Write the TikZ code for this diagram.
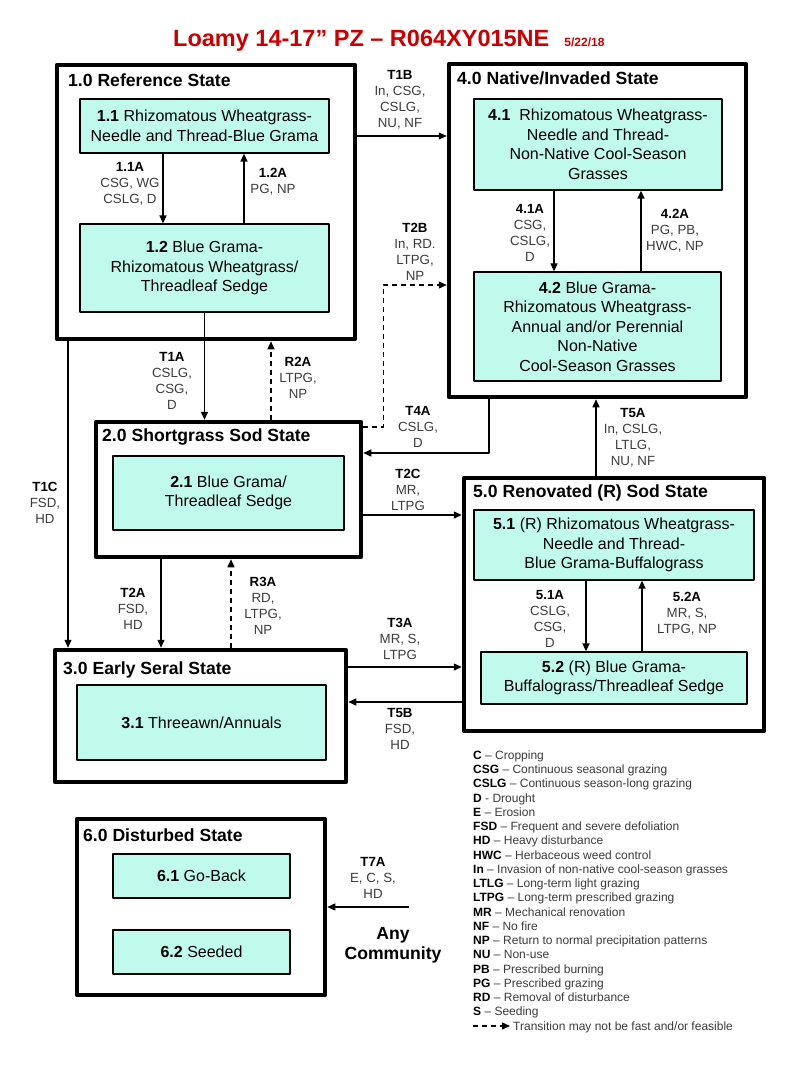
\documentclass[tikz,border=0pt]{standalone}
\usepackage{fontspec}
\setmainfont{Liberation Sans}
\usetikzlibrary{arrows.meta}
\definecolor{commfill}{RGB}{192,250,236}
\definecolor{titlered}{RGB}{204,0,0}
\definecolor{labgray}{RGB}{60,60,60}
\tikzset{
	state/.style={draw, line width=4.5pt, inner sep=0pt},
	comm/.style={draw, line width=1.3pt, fill=commfill, align=center, inner sep=0pt, font=\fontsize{16}{19.5}\selectfont},
	stitle/.style={anchor=base west, inner sep=0pt, font=\bfseries\fontsize{17.6}{20}\selectfont},
	lbl/.style={align=center, inner sep=0pt, text=labgray, font=\fontsize{13.3}{16}\selectfont},
	leg/.style={anchor=base west, inner sep=0pt, text=labgray, font=\fontsize{12}{14}\selectfont},
	trans/.style={line width=1.4pt, ->},
	maybe/.style={dash pattern=on 5pt off 4pt}
}
\newcommand{\trn}[1]{\textcolor{black}{\textbf{#1}}}
\begin{document}
\begin{tikzpicture}[x=1pt, y=-1pt, >={Triangle[length=8pt,width=7pt]}, line join=round]
	\path[use as bounding box, fill=white] (0,0) rectangle (800,1067);
	\node[anchor=base west, text=titlered, inner sep=0pt, font=\bfseries\fontsize{23.5}{28}\selectfont] (title) at (173,47) {Loamy 14-17” PZ – R064XY015NE\hspace{15pt}{\fontsize{12}{14}\selectfont 5/22/18}};
	\node[state, minimum width=298pt, minimum height=274pt] (s1) at (206,202) {};
	\node[state, minimum width=297pt, minimum height=333pt] (s4) at (597.5,230.5) {};
	\node[state, minimum width=265pt, minimum height=135pt] (s2) at (228.5,489.5) {};
	\node[state, minimum width=300pt, minimum height=253pt] (s5) at (614,604.5) {};
	\node[state, minimum width=291pt, minimum height=132pt] (s3) at (200.5,716) {};
	\node[state, minimum width=248pt, minimum height=176pt] (s6) at (201,907) {};
	\node[stitle] (t1) at (68,86.5) {1.0 Reference State};
	\node[stitle] (t4) at (457,85) {4.0 Native/Invaded State};
	\node[stitle] (t2) at (102,441) {2.0 Shortgrass Sod State};
	\node[stitle] (t5) at (473,497.5) {5.0 Renovated (R) Sod State};
	\node[stitle] (t3) at (63,674) {3.0 Early Seral State};
	\node[stitle] (t6) at (83,841) {6.0 Disturbed State};
	\node[comm, minimum width=249pt, minimum height=54pt] (c11) at (204.5,126) {\textbf{1.1} Rhizomatous Wheatgrass-\\Needle and Thread-Blue Grama};
	\node[comm, minimum width=249pt, minimum height=88pt] (c12) at (204.5,268) {\textbf{1.2} Blue Grama-\\Rhizomatous Wheatgrass/\\Threadleaf Sedge};
	\node[comm, minimum width=248pt, minimum height=91pt] (c41) at (598,144.5) {\textbf{4.1}\ \ Rhizomatous Wheatgrass-\\Needle and Thread-\\Non-Native Cool-Season\\Grasses};
	\node[comm, minimum width=247pt, minimum height=109pt] (c42) at (597.5,326.5) {\textbf{4.2} Blue Grama-\\Rhizomatous Wheatgrass-\\Annual and/or Perennial\\Non-Native\\Cool-Season Grasses};
	\node[comm, minimum width=231pt, minimum height=74pt] (c21) at (228.5,493) {\textbf{2.1} Blue Grama/\\Threadleaf Sedge};
	\node[comm, minimum width=280pt, minimum height=70pt] (c51) at (614,545) {\textbf{5.1} (R) Rhizomatous Wheatgrass-\\Needle and Thread-\\Blue Grama-Buffalograss};
	\node[comm, minimum width=266pt, minimum height=52pt] (c52) at (614,678) {\textbf{5.2} (R) Blue Grama-\\Buffalograss/Threadleaf Sedge};
	\node[comm, minimum width=249pt, minimum height=75pt] (c31) at (201.5,722.5) {\textbf{3.1} Threeawn/Annuals};
	\node[comm, minimum width=177pt, minimum height=44pt] (c61) at (201.5,876) {\textbf{6.1} Go-Back};
	\node[comm, minimum width=177pt, minimum height=44pt] (c62) at (201.5,952) {\textbf{6.2} Seeded};
	\coordinate (p11a) at ([xshift=-41.5pt]c11.south);
	\coordinate (p12a) at ([xshift=39.5pt]c12.north);
	\coordinate (p41a) at ([xshift=-44pt]c41.south);
	\coordinate (p42a) at ([xshift=43.5pt]c42.north);
	\coordinate (p51a) at ([xshift=-28pt]c51.south);
	\coordinate (p52a) at ([xshift=28pt]c52.north);
	\draw[trans] (p11a) -- (p11a |- c12.north);
	\draw[trans] (p12a) -- (p12a |- c11.south);
	\draw[trans] (p41a) -- (p41a |- c42.north);
	\draw[trans] (p42a) -- (p42a |- c41.south);
	\draw[trans] (p51a) -- (p51a |- c52.north);
	\draw[trans] (p52a) -- (p52a |- c51.south);
	\coordinate (p1b) at ([yshift=66pt]s1.east);
	\coordinate (p2r) at ([xshift=42.5pt]s2.north);
	\coordinate (p1c) at ([xshift=-138pt]s1.south);
	\coordinate (p2b) at ([yshift=62.5pt]s2.east);
	\coordinate (q2b) at ([yshift=-54.5pt]s4.west);
	\coordinate (p4a) at ([xshift=-108.5pt]s4.south);
	\coordinate (q4a) at ([yshift=36.5pt]s2.east);
	\coordinate (p2c) at ([yshift=-25.5pt]s2.east);
	\coordinate (p5a) at ([xshift=-18pt]s5.north);
	\coordinate (p2a) at ([xshift=-67.5pt]s2.south);
	\coordinate (p3r) at ([xshift=30.5pt]s3.north);
	\coordinate (p3a) at ([yshift=49pt]s3.east);
	\coordinate (p5b) at ([yshift=-97.5pt]s5.west);
	\coordinate (any) at (409,907);
	\draw[trans] (p1b) -- (p1b -| s4.west);
	\draw[trans] (c12.south) -- (c12.south |- s2.north);
	\draw[trans, maybe] (p2r) -- (p2r |- s1.south);
	\draw[trans] (p1c) -- (p1c |- s3.north);
	\draw[trans, maybe] (p2b) -- ++(20,0) |- (q2b);
	\draw[trans] (p4a) |- (q4a);
	\draw[trans] (p2c) -- (p2c -| s5.west);
	\draw[trans] (p5a) -- (p5a |- s4.south);
	\draw[trans] (p2a) -- (p2a |- s3.north);
	\draw[trans, maybe] (p3r) -- (p3r |- s2.south);
	\draw[trans] (p3a) -- (p3a -| s5.west);
	\draw[trans] (p5b) -- (p5b -| s3.east);
	\draw[trans] (any) -- (any -| s6.east);
	\node[lbl] (l11a) at (130,184) {\trn{1.1A}\\CSG, WG\\CSLG, D};
	\node[lbl] (l12a) at (273,181.5) {\trn{1.2A}\\PG, NP};
	\node[lbl] (l1b) at (400,100) {\trn{T1B}\\In, CSG,\\CSLG,\\NU, NF};
	\node[lbl] (l2b) at (415,251.5) {\trn{T2B}\\In, RD.\\LTPG,\\NP};
	\node[lbl] (l1a) at (172,381) {\trn{T1A}\\CSLG,\\CSG,\\D};
	\node[lbl] (lr2a) at (298,377.5) {\trn{R2A}\\LTPG,\\NP};
	\node[lbl] (l1c) at (45,502.5) {\trn{T1C}\\FSD,\\HD};
	\node[lbl] (l4a) at (418,427) {\trn{T4A}\\CSLG,\\D};
	\node[lbl] (l2c) at (408,490) {\trn{T2C}\\MR,\\LTPG};
	\node[lbl] (l41a) at (530,232.5) {\trn{4.1A}\\CSG,\\CSLG,\\D};
	\node[lbl] (l42a) at (675,230.5) {\trn{4.2A}\\PG, PB,\\HWC, NP};
	\node[lbl] (l5a) at (633,438) {\trn{T5A}\\In, CSLG,\\LTLG,\\NU, NF};
	\node[lbl] (l51a) at (550,618.5) {\trn{5.1A}\\CSLG,\\CSG,\\D};
	\node[lbl] (l52a) at (687,614) {\trn{5.2A}\\MR, S,\\LTPG, NP};
	\node[lbl] (l3a) at (400,639) {\trn{T3A}\\MR, S,\\LTPG};
	\node[lbl] (l5b) at (400,729) {\trn{T5B}\\FSD,\\HD};
	\node[lbl] (l2a) at (133,608.5) {\trn{T2A}\\FSD,\\HD};
	\node[lbl] (lr3a) at (263,605.5) {\trn{R3A}\\RD,\\LTPG,\\NP};
	\node[lbl] (l7a) at (373,877.5) {\trn{T7A}\\E, C, S,\\HD};
	\node[align=center, inner sep=0pt, font=\bfseries\fontsize{17.6}{20}\selectfont] (anyc) at (393,945) {Any\\Community};
	\foreach \ab/\tx [count=\i] in {C/– Cropping, CSG/– Continuous seasonal grazing, CSLG/– Continuous season-long grazing, D/- Drought, E/– Erosion, FSD/– Frequent and severe defoliation, HD/– Heavy disturbance, HWC/– Herbaceous weed control, In/– Invasion of non-native cool-season grasses, LTLG/– Long-term light grazing, LTPG/– Long-term prescribed grazing, MR/– Mechanical renovation, NF/– No fire, NP/– Return to normal precipitation patterns, NU/– Non-use, PB/– Prescribed burning, PG/– Prescribed grazing, RD/– Removal of disturbance, S/– Seeding}
		\node[leg] (k\i) at (473,{759.3+14.26*(\i-1)}) {\trn{\ab} \tx};
	\coordinate (k0) at (473,1026);
	\node[leg] (k20) at (513,1030.3) {Transition may not be fast and/or feasible};
	\draw[trans, maybe, shorten >=3pt] (k0) -- (k0 -| k20.west);
\end{tikzpicture}
\end{document}
